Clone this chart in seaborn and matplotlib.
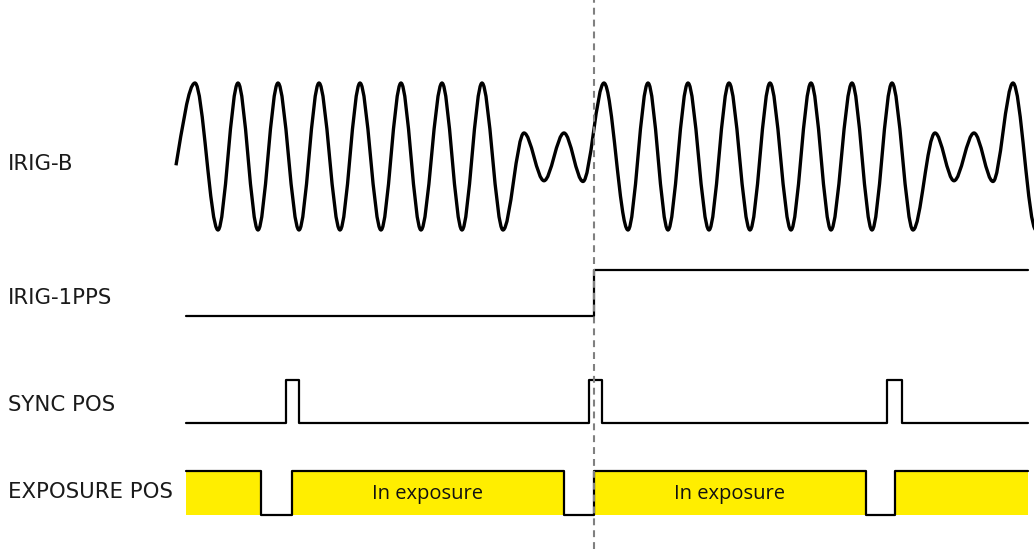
import matplotlib
matplotlib.use("Agg")
import matplotlib.pyplot as plt
from matplotlib.path import Path
from matplotlib.patches import PathPatch
import seaborn as sns

# ── signal data (time axis in horizontal units, levels normalised) ──
signal_names = ["IRIG-B", "IRIG-1PPS", "SYNC POS", "EXPOSURE POS"]

# IRIG-B carrier: extrema (time, normalised amplitude)
irig_b_t = [176, 195, 218, 238, 258, 278, 299, 319, 340, 360, 381, 401, 421,
            442, 462, 482, 503, 524, 544, 564, 583, 604, 628, 648, 668, 688,
            709, 729, 750, 770, 791, 811, 831, 852, 872, 892, 913, 935, 954,
            974, 993, 1013, 1036]
irig_b_a = [-0.12, 1, -1, 1, -1, 1, -1, 1, -1, 1, -1, 1, -1,
            1, -1, 1, -1, 0.32, -0.33, 0.32, -0.34, 1, -1, 1, -1, 1,
            -1, 1, -1, 1, -1, 1, -1, 1, -1, 1, -1, 0.32, -0.33,
            0.32, -0.34, 1, -1]

pps_t = [186, 594, 1028]
pps_level = [0, 1, 1]

sync_t = [186, 286, 299, 589, 602, 887, 902, 1028]
sync_level = [0, 1, 0, 1, 0, 1, 0, 0]

expo_t = [186, 261, 292, 564, 594, 866, 895, 1028]
expo_level = [1, 0, 1, 0, 1, 0, 1, 1]

expo_label = "In exposure"
expo_label_t = [428, 730]

marker_t = 594

# ── layout (vertical positions in pixel-like units, y grows down) ──
W, H = 1034, 549
label_base = [170.5, 304, 411, 498]
b_center, b_amp = 156.5, 73.5
pps_low, pps_high = 316, 270
sync_low, sync_high = 423, 380
expo_low, expo_high = 515, 471

sns.set_theme(style="white")
plt.rcParams["font.family"] = ["DejaVu Sans"]

fig = plt.figure(figsize=(W / 100, H / 100), dpi=100)
ax = fig.add_axes([0, 0, 1, 1])
ax.set_xlim(0, W)
ax.set_ylim(H, 0)
ax.axis("off")

# IRIG-B as smooth cubic segments between extrema
ys = [b_center - a * b_amp for a in irig_b_a]
verts = [(irig_b_t[0], ys[0])]
codes = [Path.MOVETO]
k = 0.34
for i in range(len(irig_b_t) - 1):
    x0, y0, x1, y1 = irig_b_t[i], ys[i], irig_b_t[i + 1], ys[i + 1]
    dx = x1 - x0
    if i == 0:
        c1 = (x0 + dx / 3, y0 + (y1 - y0) * 0.45)
    else:
        c1 = (x0 + k * dx, y0)
    c2 = (x1 - k * dx, y1)
    verts += [c1, c2, (x1, y1)]
    codes += [Path.CURVE4] * 3
ax.add_patch(PathPatch(Path(verts, codes), fill=False, edgecolor="black",
                       lw=2.4, capstyle="butt", joinstyle="round"))


def lane(levels, low, high):
    return [high if v else low for v in levels]


# exposure fill under high periods
expo_y = lane(expo_level, expo_low, expo_high)
ax.fill_between(expo_t, expo_y, expo_low, step="post",
                color="#FFEE00", linewidth=0, zorder=1)

for t, lv, lo, hi in [(pps_t, pps_level, pps_low, pps_high),
                      (sync_t, sync_level, sync_low, sync_high),
                      (expo_t, expo_level, expo_low, expo_high)]:
    sns.lineplot(x=t, y=lane(lv, lo, hi), ax=ax, estimator=None, sort=False,
                 drawstyle="steps-post", color="black", lw=1.6, zorder=3)

for tx in expo_label_t:
    ax.text(tx, (expo_low + expo_high) / 2 + 1, expo_label, ha="center",
            va="center", fontsize=14.5, family=["Open Sans", "DejaVu Sans"],
            color="#111111", zorder=4)

# dashed time marker
ax.axvline(marker_t, color="#808080", lw=1.5, dashes=(3.3, 2.4), zorder=5)

for name, y in zip(signal_names, label_base):
    ax.text(8, y, name, ha="left", va="baseline", fontsize=15.3,
            color="#1a1a1a")

fig.savefig("out.png", dpi=100)
